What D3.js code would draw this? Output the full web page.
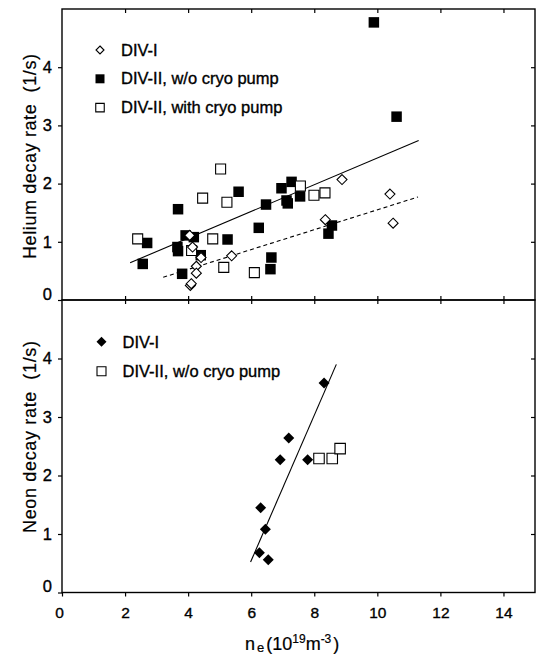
<!DOCTYPE html>
<html><head><meta charset="utf-8">
<script src="https://cdn.jsdelivr.net/npm/d3@7"></script>
<style>
html,body{margin:0;padding:0;background:#fff;}
svg{display:block;font-family:"Liberation Sans",Arial,Helvetica,sans-serif;}
</style></head>
<body><svg id="c" width="536" height="657"></svg>
<script>
// ---- data ----
const xTicks = [0,2,4,6,8,10,12,14];
const yTicks = [0,1,2,3,4];

// Helium panel
const heDiv1 = [[8.88,2.07],[10.40,1.82],[10.50,1.32],[8.35,1.38],[5.38,0.76],[4.41,0.73],[4.26,0.58],[4.26,0.46],[4.07,0.25],[4.10,0.28],[4.05,1.11],[4.14,0.91]];
const heNoCryo = [[9.89,4.77],[10.61,3.15],[2.56,0.62],[2.70,0.98],[3.68,1.56],[3.81,0.45],[3.66,0.91],[3.68,0.84],[3.92,1.11],[4.18,1.08],[4.40,0.77],[5.25,1.04],[5.60,1.86],[6.24,1.24],[6.47,1.64],[6.64,0.73],[6.61,0.53],[6.96,1.92],[7.28,2.03],[7.12,1.71],[7.16,1.66],[7.55,1.78],[8.56,1.28],[8.45,1.14]];
const heCryo = [[2.40,1.05],[5.03,2.25],[4.46,1.75],[5.23,1.68],[4.78,1.05],[4.11,0.85],[5.13,0.56],[6.10,0.47],[7.56,1.96],[7.99,1.80],[8.34,1.84]];
const heFitSolid = [[2.16,0.64],[11.31,2.74]];
const heFitDashed = [[3.21,0.39],[11.29,1.77]];
const heLegend = ["DIV-I","DIV-II, w/o cryo pump","DIV-II, with cryo pump"];

// Neon panel
const neDiv1 = [[8.31,3.58],[7.19,2.64],[6.92,2.27],[7.79,2.27],[6.30,1.45],[6.45,1.08],[6.26,0.68],[6.54,0.56]];
const neNoCryo = [[8.15,2.29],[8.57,2.29],[8.82,2.46]];
const neFit = [[5.98,0.52],[8.70,3.90]];
const neLegend = ["DIV-I","DIV-II, w/o cryo pump"];

// ---- drawing ----
const svg = d3.select("#c");
const L = 62, R = 535, T = 9, M = 300, B = 592.5;
const x = d3.scaleLinear([0,15],[L,R]);
const yTop = d3.scaleLinear([0,5],[M,T]);
const yBot = d3.scaleLinear([0,5],[B,M]);

const sqPath = (cx,cy,s)=>`M${cx-s/2},${cy-s/2}h${s}v${s}h${-s}Z`;
const diPath = (cx,cy,s)=>`M${cx},${cy-s/2}L${cx+s/2},${cy}L${cx},${cy+s/2}L${cx-s/2},${cy}Z`;
const FONT = "Liberation Sans, Arial, sans-serif";

function styleText(sel, size){
  sel.attr("font-size",size).attr("font-family",FONT).attr("fill","#000")
     .attr("stroke","#000").attr("stroke-width",0.35);
}

function axes(y, top, bottom, labelX){
  const gl = svg.append("g").attr("transform",`translate(${L},0)`)
    .call(d3.axisLeft(y).tickValues(yTicks).tickFormat(d3.format("d")).tickSize(4).tickSizeOuter(0).tickPadding(6));
  gl.select(".domain").remove();
  styleText(gl.selectAll("text"), 16.5);
  gl.selectAll("text").attr("dy", d=> d===0 ? "-0.05em" : "0.32em");
  gl.selectAll("line").attr("stroke","#000").attr("stroke-width",1.2);

  const gr = svg.append("g").attr("transform",`translate(${R},0)`)
    .call(d3.axisLeft(y).tickValues([1,2,3,4]).tickSize(4).tickSizeOuter(0).tickFormat(""));
  gr.select(".domain").remove();
  gr.selectAll("line").attr("stroke","#000").attr("stroke-width",1.2);

  const gt = svg.append("g").attr("transform",`translate(0,${top})`)
    .call(d3.axisBottom(x).tickValues(xTicks.slice(1)).tickSize(4).tickSizeOuter(0).tickFormat(""));
  gt.select(".domain").remove();
  gt.selectAll("line").attr("stroke","#000").attr("stroke-width",1.2);

  if(labelX){
    const gb = svg.append("g").attr("transform",`translate(0,${bottom})`)
      .call(d3.axisBottom(x).tickValues(xTicks).tickFormat(d3.format("d")).tickSize(4).tickSizeOuter(0).tickPadding(10));
    gb.select(".domain").remove();
    styleText(gb.selectAll("text"), 15.5);
    gb.selectAll("text").attr("dx", d=> d===0 ? -3 : 0);
    gb.selectAll("line").attr("stroke","#000").attr("stroke-width",1.2);
  } else {
    const gb = svg.append("g").attr("transform",`translate(0,${bottom})`)
      .call(d3.axisTop(x).tickValues(xTicks.slice(1)).tickSize(4).tickSizeOuter(0).tickFormat(""));
    gb.select(".domain").remove();
    gb.selectAll("line").attr("stroke","#000").attr("stroke-width",1.2);
  }
}

// frames
svg.append("rect").attr("x",L).attr("y",T).attr("width",R-L).attr("height",M-T)
  .attr("fill","none").attr("stroke","#000").attr("stroke-width",1.4);
svg.append("rect").attr("x",L).attr("y",M).attr("width",R-L).attr("height",B-M)
  .attr("fill","none").attr("stroke","#000").attr("stroke-width",1.4);

axes(yTop, T, M, false);
axes(yBot, M, B, true);

const line = (y)=>d3.line().x(d=>x(d[0])).y(d=>y(d[1]));

// Helium fits
svg.append("path").attr("d",line(yTop)(heFitSolid)).attr("stroke","#000").attr("stroke-width",1.1).attr("fill","none");
svg.append("path").attr("d",line(yTop)(heFitDashed)).attr("stroke","#000").attr("stroke-width",1.1).attr("fill","none").attr("stroke-dasharray","4,3");

// Helium markers
svg.append("g").selectAll("path").data(heNoCryo).join("path")
  .attr("d",d=>sqPath(x(d[0]),yTop(d[1]),10.5)).attr("fill","#000");
svg.append("g").selectAll("path").data(heCryo).join("path")
  .attr("d",d=>sqPath(x(d[0]),yTop(d[1]),10)).attr("fill","#fff").attr("stroke","#000").attr("stroke-width",1.1);
svg.append("g").selectAll("path").data(heDiv1).join("path")
  .attr("d",d=>diPath(x(d[0]),yTop(d[1]),10)).attr("fill","#fff").attr("stroke","#000").attr("stroke-width",1.1);

// Neon fit
svg.append("path").attr("d",line(yBot)(neFit)).attr("stroke","#000").attr("stroke-width",1.1).attr("fill","none");
// Neon markers
svg.append("g").selectAll("path").data(neDiv1).join("path")
  .attr("d",d=>diPath(x(d[0]),yBot(d[1]),11)).attr("fill","#000");
svg.append("g").selectAll("path").data(neNoCryo).join("path")
  .attr("d",d=>sqPath(x(d[0]),yBot(d[1]),10.5)).attr("fill","#fff").attr("stroke","#000").attr("stroke-width",1.1);

// Legends
const legFont = 16.5;
const hl = svg.append("g");
heLegend.forEach((t,i)=>{
  const cy = 50 + i*28.8;
  if(i===0) hl.append("path").attr("d",diPath(100,cy,8)).attr("fill","#fff").attr("stroke","#000").attr("stroke-width",1.1);
  if(i===1) hl.append("path").attr("d",sqPath(100,cy,9)).attr("fill","#000");
  if(i===2) hl.append("path").attr("d",sqPath(100,cy,8.5)).attr("fill","#fff").attr("stroke","#000").attr("stroke-width",1.1);
  const tx = hl.append("text").attr("x",121).attr("y",cy+5.5).text(t);
  styleText(tx, legFont);
});
const nl = svg.append("g");
neLegend.forEach((t,i)=>{
  const cy = 341.7 + i*29.5;
  if(i===0) nl.append("path").attr("d",diPath(101.5,cy,10)).attr("fill","#000");
  if(i===1) nl.append("path").attr("d",sqPath(101.5,cy,9)).attr("fill","#fff").attr("stroke","#000").attr("stroke-width",1.1);
  const tx = nl.append("text").attr("x",122.5).attr("y",cy+5.8).text(t);
  styleText(tx, legFont);
});

// Y axis titles
const t1 = svg.append("text").attr("transform","translate(36,156.5) rotate(-90)")
  .attr("text-anchor","middle").attr("textLength",205).attr("lengthAdjust","spacing")
  .attr("xml:space","preserve").text("Helium decay rate  (1/s)");
styleText(t1, 18); t1.attr("stroke-width",0.2);
const t2 = svg.append("text").attr("transform","translate(36,437) rotate(-90)")
  .attr("text-anchor","middle").attr("textLength",192).attr("lengthAdjust","spacing")
  .attr("xml:space","preserve").text("Neon decay rate  (1/s)");
styleText(t2, 18); t2.attr("stroke-width",0.2);

// X axis title
const xt = svg.append("text").attr("x",245).attr("y",650);
styleText(xt, 18); xt.attr("stroke-width",0.2);
xt.append("tspan").text("n");
xt.append("tspan").attr("font-size",13).attr("dy",2).attr("dx",2).text("e");
xt.append("tspan").attr("dy",-2).attr("dx",2).text("(10");
xt.append("tspan").attr("font-size",12).attr("dy",-7).text("19");
xt.append("tspan").attr("dy",7).text("m");
xt.append("tspan").attr("font-size",12).attr("dy",-7).text("-3");
xt.append("tspan").attr("dy",7).attr("dx",2).text(")");
</script>
</body></html>
